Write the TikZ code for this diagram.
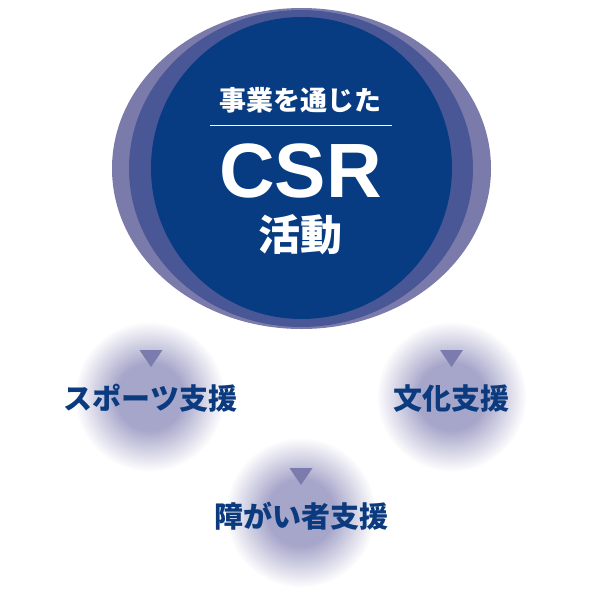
\documentclass[tikz,border=0pt]{standalone}
\usepackage{fontspec}
\newfontfamily\jp{Noto Sans CJK JP}
\newfontfamily\lat{Liberation Sans}
\definecolor{outerC}{HTML}{7A7BAB}
\definecolor{midC}{HTML}{4A5796}
\definecolor{innerC}{HTML}{073C82}
\definecolor{navyT}{HTML}{0B3B7E}
\definecolor{triC}{HTML}{7B7BAD}
\definecolor{glowC}{HTML}{A6A5CA}
\tikzset{
  whitejp/.style={text=white, inner sep=0pt, font=\jp\bfseries},
  label/.style={text=navyT, inner sep=0pt, font=\jp\bfseries\fontsize{29}{29}\selectfont},
  tri/.style={fill=triC, draw=none}
}
\newcommand{\glowat}[2]{%
  \foreach \i in {0,...,40}{%
    \pgfmathsetmacro{\rr}{76-\i*1.85}%
    \pgfmathsetmacro{\pp}{min(100,100*(1-\rr/76)*1.8)}%
    \fill[glowC!\pp!white] (#1,#2) circle[radius=\rr];
  }%
}
\begin{document}
\begin{tikzpicture}[x=1pt,y=-1pt]
\useasboundingbox (0,0) rectangle (600,598);
\fill[white] (0,0) rectangle (600,598);
% glows
\glowat{150}{397}
\glowat{452}{397}
\glowat{301}{513}
% main ellipses
\fill[outerC] (301.5,168.5) ellipse[x radius=189.5, y radius=160.5];
\fill[midC] (301,168.5) ellipse[x radius=172, y radius=158.5];
\fill[innerC] (301.5,168) ellipse[x radius=150.5, y radius=151];
% texts
\node[whitejp, font=\jp\bfseries\fontsize{27}{27}\selectfont] (t1) at (300,100.5) {事業を通じた};
\coordinate (la) at (210,125);
\coordinate (lb) at (392,125);
\draw[white, line width=0.9pt] (la) -- (lb);
\node[text=white, inner sep=0pt, font=\lat\bfseries\fontsize{77}{77}\selectfont] (csr) at (300.5,170.5) {CSR};
\node[whitejp, font=\jp\bfseries\fontsize{42}{42}\selectfont] (t2) at (300,235) {活動};
% triangles
\fill[tri] (139.5,350) -- (162.5,350) -- (151,367) -- cycle;
\fill[tri] (440,350) -- (463,350) -- (451.5,367) -- cycle;
\fill[tri] (289.5,468) -- (312.5,468) -- (301,485) -- cycle;
% labels
\node[label] (sp) at (150.5,398.5) {スポーツ支援};
\node[label] (bk) at (451,398.5) {文化支援};
\node[label] (sg) at (301,516) {障がい者支援};
\end{tikzpicture}
\end{document}
